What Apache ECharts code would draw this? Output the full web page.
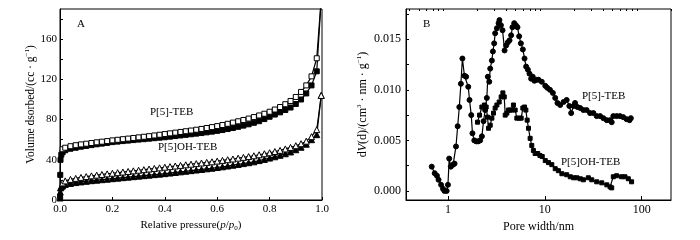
<!DOCTYPE html>
<html>
<head>
<meta charset="utf-8">
<script src="https://cdn.jsdelivr.net/npm/echarts@6/dist/echarts.min.js"></script>
<style>
  html, body { margin: 0; padding: 0; background: #fff; }
  #chart { width: 700px; height: 240px; }
</style>
</head>
<body>
<div id="chart"></div>
<script>
// panel A: N2 isotherms
const pAds = [0.0005, 0.001, 0.002, 0.005, 0.01,
  0.02, 0.04, 0.06, 0.08, 0.10, 0.12, 0.14, 0.16, 0.18, 0.20, 0.22, 0.24, 0.26, 0.28, 0.30,
  0.32, 0.34, 0.36, 0.38, 0.40, 0.42, 0.44, 0.46, 0.48, 0.50, 0.52, 0.54, 0.56, 0.58, 0.60,
  0.62, 0.64, 0.66, 0.68, 0.70, 0.72, 0.74, 0.76, 0.78, 0.80, 0.82, 0.84, 0.86, 0.88, 0.90,
  0.92, 0.94, 0.96, 0.98, 0.997]
const pDes = [0.01,
  0.02, 0.04, 0.06, 0.08, 0.10, 0.12, 0.14, 0.16, 0.18, 0.20, 0.22, 0.24, 0.26, 0.28, 0.30,
  0.32, 0.34, 0.36, 0.38, 0.40, 0.42, 0.44, 0.46, 0.48, 0.50, 0.52, 0.54, 0.56, 0.58, 0.60,
  0.62, 0.64, 0.66, 0.68, 0.70, 0.72, 0.74, 0.76, 0.78, 0.80, 0.82, 0.84, 0.86, 0.88, 0.90,
  0.92, 0.94, 0.96, 0.98, 0.997]

const tebAds = [3, 25, 40, 45, 47.5,
  49.5, 51, 52, 53, 53.8, 54.6, 55.4, 56.1, 56.8, 57.6, 58.1, 58.6, 59.1, 59.6, 60.1,
  60.5, 61, 61.5, 62, 62.4, 63, 63.6, 64.2, 64.8, 65.4, 66, 66.6, 67.3, 68, 68.8,
  69.6, 70.6, 71.6, 72.8, 74, 75.3, 76.8, 78.4, 80.5, 82.8, 85, 87.2, 89.5, 92, 95.5,
  100, 106, 114, 128, 200]
const tebDes = [50.5,
  52, 53.5, 54.5, 55.3, 56, 56.7, 57.4, 58, 58.6, 59.3, 59.9, 60.5, 61.1, 61.7, 62.3,
  62.9, 63.5, 64.2, 64.9, 65.6, 66.3, 67, 67.7, 68.4, 69.1, 69.9, 70.7, 71.6, 72.5, 73.5,
  74.6, 75.8, 77, 78.3, 79.6, 81, 82.5, 84.1, 85.8, 87.8, 90, 92.5, 95.3, 98.5, 102.5,
  107.5, 114, 123, 141, 200]
const ohAds = [2, 8, 12, 13, 14,
  15.5, 16.5, 17.3, 18, 18.6, 19.2, 19.7, 20.2, 20.7, 21.2, 21.7, 22.2, 22.7, 23.2, 23.7,
  24.2, 24.7, 25.2, 25.7, 26.2, 26.8, 27.4, 28, 28.6, 29.2, 29.8, 30.4, 31, 31.6, 32.3,
  33, 33.8, 34.6, 35.4, 36.2, 37.1, 38, 39.2, 40.4, 41.7, 43, 44.5, 46, 47.8, 50,
  52.5, 55.5, 60, 65, 104]
const ohDes = [17,
  19, 20.5, 21.5, 22.5, 23.3, 24, 24.7, 25.4, 26, 26.6, 27.2, 27.8, 28.4, 29, 29.6,
  30.2, 30.8, 31.4, 32, 32.6, 33.2, 33.8, 34.4, 35, 35.6, 36.2, 36.8, 37.4, 38, 38.7,
  39.4, 40.1, 40.8, 41.6, 42.4, 43.2, 44, 45, 46, 47, 48.2, 49.4, 50.8, 52.3, 54,
  56, 58.5, 63, 70, 104]

// panel B: pore size distribution
const wTeb = [0.68, 0.73, 0.77, 0.80, 0.85, 0.89, 0.92, 0.97, 1.00, 1.03, 1.07, 1.13, 1.17, 1.21,
  1.26, 1.31, 1.36, 1.41, 1.48, 1.54, 1.62, 1.67, 1.74, 1.79, 1.87, 1.96, 2.05, 2.15, 2.24,
  2.33, 2.42, 2.52, 2.58, 2.67, 2.73, 2.84, 2.91, 3.00, 3.07, 3.20, 3.33, 3.40, 3.52, 3.66,
  3.84, 3.99, 4.15, 4.32, 4.49, 4.63, 4.83, 5.02, 5.22, 5.43, 5.66, 5.93, 6.17, 6.41, 6.68,
  6.94, 7.22, 7.50, 7.80, 8.25, 8.60, 9.30, 10.1, 10.6, 11.3, 12.1, 12.8, 13.5, 14.4, 15.6,
  16.8, 17.9, 18.7, 19.8, 20.5, 21.7, 23.2, 25.0, 27.0, 29.3, 31.7, 34.3, 37.2, 40.2, 43.6,
  47.1, 49.0, 50.9, 55.1, 59.6, 64.5, 69.8, 74.8, 77.2]
const dvTeb = [0.0024, 0.00175, 0.0015, 0.0011, 0.0006, 0.0002, 0.0000, 0.0000, 0.0006, 0.0032, 0.0024, 0.0026, 0.0027, 0.0044,
  0.0064, 0.0083, 0.0106, 0.0131, 0.0114, 0.0113, 0.0103, 0.0090, 0.0075, 0.0057, 0.0050, 0.0049, 0.0049, 0.0050, 0.0054,
  0.0069, 0.0080, 0.0092, 0.0113, 0.0108, 0.0121, 0.0129, 0.0138, 0.0146, 0.0156, 0.0161, 0.0166, 0.0169, 0.0164, 0.0159,
  0.0139, 0.0144, 0.0147, 0.0149, 0.0154, 0.0162, 0.0166, 0.0164, 0.0162, 0.0153, 0.0146, 0.0140, 0.0131, 0.0123, 0.0120,
  0.0116, 0.0111, 0.0113, 0.0109, 0.0110, 0.0110, 0.0108, 0.0104, 0.0102, 0.0100, 0.0097, 0.0092, 0.0087, 0.0085, 0.0088,
  0.0090, 0.0084, 0.0077, 0.0084, 0.0087, 0.0083, 0.0082, 0.0080, 0.0080, 0.0077, 0.0077, 0.0074, 0.0074, 0.0072, 0.0070,
  0.0070, 0.0068, 0.0074, 0.0074, 0.0074, 0.0073, 0.0071, 0.0070, 0.0072]
const wOh = [2.02, 2.12, 2.24, 2.38, 2.48, 2.56, 2.62, 2.73, 2.84, 2.95, 3.07, 3.20, 3.38, 3.54,
  3.69, 3.81, 3.90, 4.06, 4.21, 4.38, 4.56, 4.74, 4.94, 5.14, 5.43, 5.70, 5.93, 6.17, 6.37,
  6.57, 6.78, 7.05, 7.33, 7.62, 7.94, 8.45, 8.90, 9.40, 10.1, 10.9, 11.8, 12.8, 13.8, 15.0,
  16.8, 18.3, 19.8, 21.4, 23.2, 25.0, 28.1, 30.5, 34.3, 38.7, 43.6, 47.1, 49.0, 50.9, 55.1,
  62.0, 67.2, 72.7, 78.6]
const dvOh = [0.0068, 0.0075, 0.0083, 0.0085, 0.0083, 0.0073, 0.0062, 0.0065, 0.0072, 0.0077, 0.0082, 0.0085, 0.0088, 0.0093,
  0.0097, 0.0093, 0.0075, 0.0077, 0.0080, 0.0080, 0.0080, 0.0085, 0.0080, 0.0072, 0.0072, 0.0072, 0.0082, 0.0083, 0.0080,
  0.0070, 0.0062, 0.0052, 0.0045, 0.0040, 0.0037, 0.0037, 0.0035, 0.0034, 0.0030, 0.0028, 0.0026, 0.0022, 0.0020, 0.0017,
  0.0016, 0.0014, 0.0013, 0.0013, 0.0012, 0.0011, 0.0013, 0.0011, 0.0009, 0.0008, 0.0006, 0.0004, 0.0003, 0.0014, 0.0015,
  0.0014, 0.0014, 0.0012, 0.0009]

const yTicksA = [0, 20, 40, 60, 80, 100, 120, 140, 160, 180]
const yLabelsA = [0, 40, 80, 120, 160]
const yTicksB = [0, 0.0025, 0.005, 0.0075, 0.01, 0.0125, 0.015, 0.0175]
const yLabelsB = [0, 0.005, 0.01, 0.015]
const xMajorB = [1, 10, 100]
const xMinorB = [0.4, 0.5, 0.6, 0.7, 0.8, 0.9, 2, 3, 4, 5, 6, 7, 8, 9,
  20, 30, 40, 50, 60, 70, 80, 90, 200]

const zip = (xs, ys) => xs.map((x, i) => [x, ys[i]])

const font = 'Liberation Serif'
const txt = { color: '#000', fontFamily: font, fontSize: 11 }
const txtB = { color: '#000', fontFamily: font, fontSize: 12 }

const chart = echarts.init(document.getElementById('chart'), null, { renderer: 'canvas' })

function line (name, xi, yi, data, symbol, filled, size) {
  return {
    name: name,
    type: 'line',
    xAxisIndex: xi,
    yAxisIndex: yi,
    data: data,
    symbol: symbol,
    symbolSize: size,
    showAllSymbol: true,
    animation: false,
    lineStyle: { color: '#000', width: 1.2 },
    itemStyle: { color: filled ? '#000' : '#fff', borderColor: '#000', borderWidth: 1 },
    z: filled ? 2 : 3
  }
}

chart.setOption({
  animation: false,
  textStyle: { fontFamily: font },
  grid: [
    { left: 60, top: 9, width: 262, height: 191, show: true, borderColor: '#000', borderWidth: 1 },
    { left: 406, top: 9, width: 265, height: 191, show: true, borderColor: '#000', borderWidth: 1 }
  ],
  xAxis: [
    {
      gridIndex: 0, type: 'value', min: 0, max: 1, interval: 0.2,
      axisLine: { onZero: false, lineStyle: { color: '#000' } },
      axisTick: { inside: true, length: 3, lineStyle: { color: '#000' } },
      splitLine: { show: false },
      axisLabel: Object.assign({ margin: 4, formatter: v => v.toFixed(1) }, txt),
      name: '{n|Relative pressure(}{i|p}{n|/}{i|p}{s|0}{n|)}',
      nameLocation: 'middle', nameGap: 18,
      nameTextStyle: {
        rich: {
          n: txt,
          i: Object.assign({}, txt, { fontStyle: 'italic' }),
          s: Object.assign({}, txt, { fontSize: 7, padding: [6, 0, 0, 0] })
        }
      }
    },
    {
      gridIndex: 1, type: 'log', min: 0.369, max: 200.5,
      axisLine: { onZero: false, lineStyle: { color: '#000' } },
      axisTick: { inside: true, length: 4, customValues: xMajorB, lineStyle: { color: '#000' } },
      splitLine: { show: false },
      minorTick: { show: false },
      axisLabel: Object.assign({ margin: 4, customValues: xMajorB, formatter: v => String(Math.round(v)) }, txtB),
      name: 'Pore width/nm',
      nameLocation: 'middle', nameGap: 19,
      nameTextStyle: txtB
    },
    {
      gridIndex: 1, type: 'log', min: 0.369, max: 200.5,
      axisLine: { show: false, onZero: false },
      axisTick: { inside: true, length: 2, customValues: xMinorB, lineStyle: { color: '#000' } },
      axisLabel: { show: false },
      splitLine: { show: false }
    }
  ],
  yAxis: [
    {
      gridIndex: 0, type: 'value', min: 0, max: 190,
      axisLine: { onZero: false, lineStyle: { color: '#000' } },
      axisTick: { inside: true, length: 3, customValues: yTicksA, lineStyle: { color: '#000' } },
      splitLine: { show: false },
      axisLabel: Object.assign({ margin: 3, customValues: yLabelsA }, txt),
      name: '{n|Volume dsorbed/(cc · g}{s|−1}{n|)}',
      nameLocation: 'middle', nameGap: 22, nameRotate: 90,
      nameTextStyle: {
        rich: {
          n: Object.assign({}, txt, { fontSize: 11.5 }),
          s: Object.assign({}, txt, { fontSize: 7, padding: [0, 0, 6, 0] })
        }
      }
    },
    {
      gridIndex: 1, type: 'value', min: -0.0009, max: 0.018,
      axisLine: { onZero: false, lineStyle: { color: '#000' } },
      axisTick: { inside: true, length: 3, customValues: yTicksB, lineStyle: { color: '#000' } },
      splitLine: { show: false },
      axisLabel: Object.assign({ margin: 5, customValues: yLabelsB, formatter: v => v.toFixed(3) }, txtB),
      name: '{n|d}{i|V}{n|(d)/(cm}{s|3}{n| · nm · g}{s|−1}{n|)}',
      nameLocation: 'middle', nameGap: 37, nameRotate: 90,
      nameTextStyle: {
        rich: {
          n: txtB,
          i: Object.assign({}, txtB, { fontStyle: 'italic' }),
          s: Object.assign({}, txtB, { fontSize: 7, padding: [0, 0, 6, 0] })
        }
      }
    }
  ],
  graphic: [
    { type: 'text', left: 77, top: 19, style: { text: 'A', fill: '#000', font: '11px "Liberation Serif"' } },
    { type: 'text', left: 423, top: 19, style: { text: 'B', fill: '#000', font: '11px "Liberation Serif"' } },
    { type: 'text', left: 150, top: 107, style: { text: 'P[5]-TEB', fill: '#000', font: '11px "Liberation Serif"' } },
    { type: 'text', left: 158, top: 142, style: { text: 'P[5]OH-TEB', fill: '#000', font: '11px "Liberation Serif"' } },
    { type: 'text', left: 582, top: 91, style: { text: 'P[5]-TEB', fill: '#000', font: '11px "Liberation Serif"' } },
    { type: 'text', left: 561, top: 157, style: { text: 'P[5]OH-TEB', fill: '#000', font: '11px "Liberation Serif"' } }
  ],
  series: [
    line('P[5]-TEB ads', 0, 0, zip(pAds, tebAds), 'rect', true, 5),
    line('P[5]-TEB des', 0, 0, zip(pDes, tebDes), 'rect', false, 5),
    line('P[5]OH-TEB ads', 0, 0, zip(pAds, ohAds), 'triangle', true, 6),
    line('P[5]OH-TEB des', 0, 0, zip(pDes, ohDes), 'triangle', false, 6),
    line('P[5]-TEB', 1, 1, zip(wTeb, dvTeb), 'circle', true, 5),
    line('P[5]OH-TEB', 1, 1, zip(wOh, dvOh), 'rect', true, 4)
  ]
})
</script>
</body>
</html>
